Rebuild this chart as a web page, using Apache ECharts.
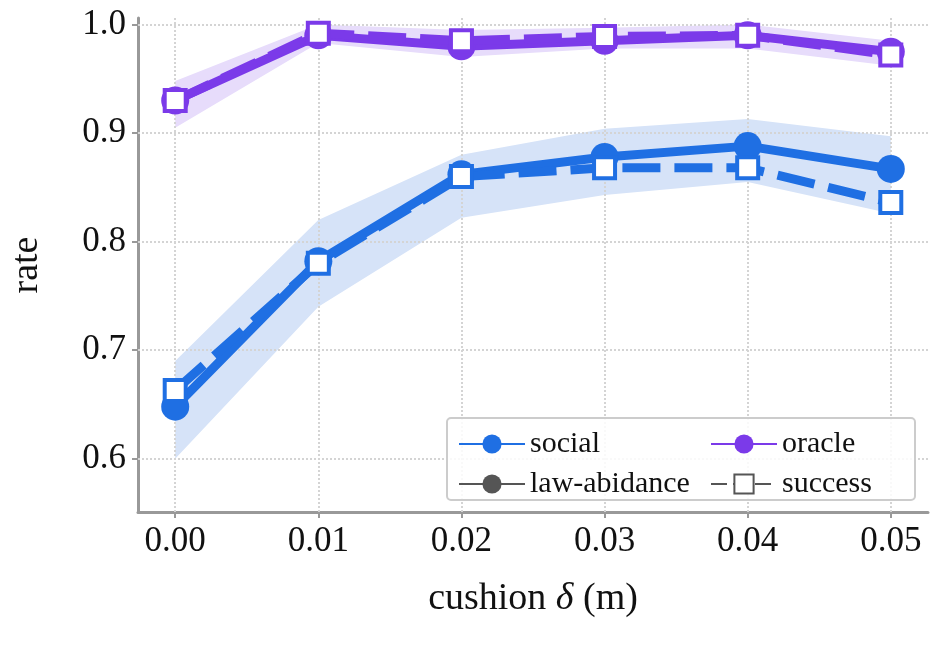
<!DOCTYPE html>
<html lang="en">
<head>
    <meta charset="UTF-8">
    <title>rate vs cushion</title>
</head>
<body style="margin:0">
<div id="main" style="width: 941px;height: 648px;"></div>
<script src="https://cdn.jsdelivr.net/npm/echarts@6/dist/echarts.min.js"></script>
<script type="text/javascript">
    // data
    var cushion = [0.00, 0.01, 0.02, 0.03, 0.04, 0.05];
    var xTicks = [0.00, 0.01, 0.02, 0.03, 0.04, 0.05];
    var yTicks = [0.6, 0.7, 0.8, 0.9, 1.0];
    var socialLaw = [0.648, 0.782, 0.862, 0.878, 0.888, 0.867];
    var socialSuccess = [0.663, 0.780, 0.860, 0.868, 0.868, 0.836];
    var socialLow = [0.600, 0.740, 0.822, 0.843, 0.855, 0.826];
    var socialHigh = [0.690, 0.820, 0.880, 0.904, 0.913, 0.897];
    var oracleLaw = [0.930, 0.990, 0.980, 0.985, 0.990, 0.975];
    var oracleSuccess = [0.930, 0.992, 0.985, 0.989, 0.990, 0.972];
    var oracleLow = [0.905, 0.983, 0.970, 0.978, 0.978, 0.962];
    var oracleHigh = [0.948, 1.000, 0.995, 0.997, 1.000, 0.985];

    var BLUE = '#1f6fe3', PURPLE = '#7b3ae9', GREY = '#555555';
    var FONT = 'Liberation Serif';

    function pairs(ys) { return cushion.map(function (x, i) { return [x, ys[i]]; }); }

    var gridLine = { type: 'dotted', color: '#d4d4d4', width: 2 };
    var markLines = yTicks.map(function (v) { return { yAxis: v }; })
        .concat(xTicks.map(function (v) { return { xAxis: v }; }));

    function band(lo, hi, col) {
        return {
            type: 'custom', data: [0], silent: true, zlevel: 0, z: 2,
            renderItem: function (params, api) {
                var pts = [];
                cushion.forEach(function (x, i) { pts.push(api.coord([x, hi[i]])); });
                for (var i = cushion.length - 1; i >= 0; i--) pts.push(api.coord([cushion[i], lo[i]]));
                return { type: 'polygon', shape: { points: pts }, style: { fill: col } };
            }
        };
    }
    function lawLine(ys, col) {
        return { type: 'line', data: pairs(ys), symbol: 'circle', symbolSize: 28, zlevel: 1, z: 3,
                 lineStyle: { color: col, width: 9 }, itemStyle: { color: col } };
    }
    function succLine(ys, col) {
        return { type: 'line', data: pairs(ys), symbol: 'rect', symbolSize: 21, zlevel: 1, z: 4,
                 lineStyle: { color: col, width: 9, type: [38, 14] },
                 itemStyle: { color: '#fff', borderColor: col, borderWidth: 4 } };
    }

    var series = [
        { type: 'line', data: pairs(socialLaw), symbol: 'none', lineStyle: { width: 0 }, silent: true, zlevel: 0, z: 0,
          markLine: { silent: true, symbol: 'none', label: { show: false }, lineStyle: gridLine, data: markLines } },
        band(socialLow, socialHigh, '#d6e3f8'),
        band(oracleLow, oracleHigh, '#e7dcfb'),
        lawLine(socialLaw, BLUE), succLine(socialSuccess, BLUE),
        lawLine(oracleLaw, PURPLE), succLine(oracleSuccess, PURPLE),
        { type: 'line', name: 'social', data: [], symbol: 'none', lineStyle: { color: BLUE, width: 9 }, itemStyle: { color: BLUE } },
        { type: 'line', name: 'oracle', data: [], symbol: 'none', lineStyle: { color: PURPLE, width: 9 }, itemStyle: { color: PURPLE } },
        { type: 'line', name: 'law-abidance', data: [], symbol: 'circle', symbolSize: 24, lineStyle: { color: GREY, width: 9 }, itemStyle: { color: GREY } },
        { type: 'line', name: 'success', data: [], symbol: 'rect', symbolSize: 18, lineStyle: { color: GREY, width: 9, type: [16, 6] }, itemStyle: { color: '#fff', borderColor: GREY, borderWidth: 4 } }
    ];

    var legendBase = { orient: 'vertical', itemWidth: 66, itemHeight: 24, itemGap: 10, zlevel: 1, z: 10,
        textStyle: { fontFamily: FONT, fontSize: 30, color: '#111' } };

    var myChart = echarts.init(document.getElementById('main'));
    myChart.setOption({
        animation: false,
        textStyle: { fontFamily: FONT },
        grid: { left: 133, right: 13, top: 18, bottom: 136 },
        xAxis: {
            type: 'value', min: -0.0026, max: 0.0526,
            name: '{n|cushion }{i|δ}{n| (m)}', nameLocation: 'middle', nameGap: 68,
            nameTextStyle: { rich: { n: { fontFamily: FONT, fontSize: 38, color: '#111' }, i: { fontFamily: FONT, fontSize: 38, fontStyle: 'italic', color: '#111' } } },
            axisLine: { onZero: false, lineStyle: { color: '#999', width: 3 } },
            axisTick: { customValues: xTicks, length: 6, lineStyle: { color: '#999', width: 2 } },
            axisLabel: { customValues: xTicks, fontFamily: FONT, fontSize: 35, color: '#111', margin: 12,
                formatter: function (v) { return v.toFixed(2); } },
            splitLine: { show: false }
        },
        yAxis: {
            type: 'value', min: 0.551, max: 1.006,
            name: 'rate', nameLocation: 'middle', nameGap: 92, nameRotate: 90,
            nameTextStyle: { fontFamily: FONT, fontSize: 38, color: '#111' },
            axisLine: { show: true, onZero: false, lineStyle: { color: '#999', width: 3 } },
            axisTick: { show: true, customValues: yTicks, length: 6, lineStyle: { color: '#999', width: 2 } },
            axisLabel: { customValues: yTicks, fontFamily: FONT, fontSize: 35, color: '#111', margin: 12,
                formatter: function (v) { return v.toFixed(1); } },
            splitLine: { show: false }
        },
        legend: [
            Object.assign({ data: ['social', 'law-abidance'], left: 453, top: 424 }, legendBase),
            Object.assign({ data: ['oracle', 'success'], left: 705, top: 424 }, legendBase)
        ],
        graphic: [{ type: 'rect', zlevel: 1, z: 1, shape: { x: 447, y: 418, width: 468, height: 82, r: 4 },
                    style: { fill: 'rgba(255,255,255,0.85)', stroke: '#cccccc', lineWidth: 2 } }],
        series: series
    });
</script>
</body>
</html>
